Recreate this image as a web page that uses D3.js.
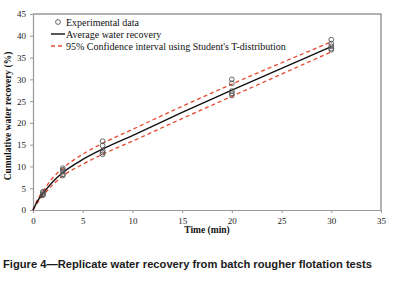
<!DOCTYPE html>
<html>
<head>
<meta charset="utf-8">
<script src="https://cdn.jsdelivr.net/npm/d3@7"></script>
<style>
  body { margin: 0; background: #fff; }
  svg { display: block; }
</style>
</head>
<body>
<div id="chart"></div>
<script>
// size of svg
const width = 397; const height = 292;
const margin = {top: 14, right: 16, bottom: 82, left: 33};
const innerWidth = width - margin.left - margin.right;
const innerHeight = height - margin.top - margin.bottom;

// experimental data (replicates at each time)
const expTimes = [1, 3, 7, 20, 30];
const expValues = [
    [4.2, 3.9, 3.6, 3.4],
    [9.6, 9.2, 8.8, 8.2, 7.9],
    [15.8, 14.8, 13.6, 13.2, 12.8],
    [30.0, 29.1, 27.3, 26.8, 26.3],
    [39.1, 38.2, 37.6, 37.1, 36.8]
];
// fitted curves
const fitTimes = [0, 0.5, 1, 2, 3, 5, 7, 10, 15, 20, 25, 30];
const avgValues = [0, 2.2, 3.8, 6.5, 8.6, 11.6, 14.0, 17.1, 22.4, 27.5, 32.5, 37.5];
const upperValues = [0, 2.6, 4.3, 7.4, 9.6, 12.8, 15.3, 18.5, 23.8, 28.9, 33.8, 38.6];
const lowerValues = [0, 1.8, 3.3, 5.8, 7.8, 10.5, 12.8, 15.8, 21.0, 26.1, 31.2, 36.3];

const xTicks = [0, 5, 10, 15, 20, 25, 30, 35];
const yTicks = [0, 5, 10, 15, 20, 25, 30, 35, 40, 45];

const svg = d3.select('#chart')
    .append('svg')
        .attr('width', width)
        .attr('height', height);

const g = svg.append('g')
    .attr('transform', `translate(${margin.left}, ${margin.top})`);

const xScale = d3.scaleLinear().domain([0, 35]).range([0, innerWidth]);
const yScale = d3.scaleLinear().domain([0, 45]).range([innerHeight, 0]);

// frame (top and right)
g.append('path')
    .attr('d', `M0,0H${innerWidth}V${innerHeight}`)
    .attr('fill', 'none')
    .attr('stroke', '#999')
    .attr('stroke-width', 1.5);

// axes
const xAxis = g.append('g')
    .attr('transform', `translate(0, ${innerHeight})`)
    .call(d3.axisBottom(xScale).tickValues(xTicks).tickSize(3).tickSizeOuter(0));
const yAxis = g.append('g')
    .call(d3.axisLeft(yScale).tickValues(yTicks).tickSize(3).tickSizeOuter(0));
[xAxis, yAxis].forEach(ax => {
    ax.select('.domain').attr('stroke', '#999').attr('stroke-width', 1.2);
    ax.selectAll('.tick line').attr('stroke', '#999');
    ax.selectAll('.tick text')
        .attr('font-family', 'Liberation Serif, serif')
        .attr('font-size', 9)
        .attr('fill', '#222');
});
xAxis.selectAll('.tick text').attr('dy', '0.9em');
yAxis.selectAll('.tick text').attr('x', -7);

// lines
const line = d3.line()
    .x((d, i) => xScale(fitTimes[i]))
    .y(d => yScale(d))
    .curve(d3.curveMonotoneX);

g.append('path')
    .attr('d', line(upperValues))
    .attr('fill', 'none')
    .attr('stroke', '#e8492e')
    .attr('stroke-width', 1.3)
    .attr('stroke-dasharray', '4,3');
g.append('path')
    .attr('d', line(lowerValues))
    .attr('fill', 'none')
    .attr('stroke', '#e8492e')
    .attr('stroke-width', 1.3)
    .attr('stroke-dasharray', '4,3');
g.append('path')
    .attr('d', line(avgValues))
    .attr('fill', 'none')
    .attr('stroke', '#111')
    .attr('stroke-width', 1.4);

// experimental points
const points = [];
expTimes.forEach((t, i) => {
    expValues[i].forEach(v => points.push({t: t, v: v}));
});
g.selectAll('circle.exp')
    .data(points)
    .enter()
    .append('circle')
        .attr('class', 'exp')
        .attr('cx', d => xScale(d.t))
        .attr('cy', d => yScale(d.v))
        .attr('r', 2.4)
        .attr('fill', 'none')
        .attr('stroke', '#555')
        .attr('stroke-width', 0.9);

// legend
const legend = g.append('g').attr('transform', 'translate(18, 8)');
const legendFont = 'Liberation Serif, serif';
legend.append('circle')
    .attr('cx', 7).attr('cy', 0).attr('r', 2.4)
    .attr('fill', 'none').attr('stroke', '#555').attr('stroke-width', 0.9);
legend.append('line')
    .attr('x1', 0).attr('x2', 14).attr('y1', 12).attr('y2', 12)
    .attr('stroke', '#111').attr('stroke-width', 1.4);
legend.append('line')
    .attr('x1', 0).attr('x2', 14).attr('y1', 24).attr('y2', 24)
    .attr('stroke', '#e8492e').attr('stroke-width', 1.3).attr('stroke-dasharray', '4,3');
const legendLabels = ['Experimental data', 'Average water recovery', '95% Confidence interval using Student\'s T-distribution'];
legend.selectAll('text.leg')
    .data(legendLabels)
    .enter()
    .append('text')
        .attr('class', 'leg')
        .attr('x', 15)
        .attr('y', (d, i) => i * 12 + 3.5)
        .attr('font-family', legendFont)
        .attr('font-size', 10)
        .attr('fill', '#111')
        .text(d => d);

// axis titles
g.append('text')
    .attr('x', innerWidth / 2)
    .attr('y', innerHeight + 23)
    .attr('text-anchor', 'middle')
    .attr('font-family', legendFont)
    .attr('font-weight', 'bold')
    .attr('font-size', 9.5)
    .attr('fill', '#111')
    .text('Time (min)');
svg.append('text')
    .attr('transform', `translate(11, ${margin.top + innerHeight / 2 + 4}) rotate(-90)`)
    .attr('text-anchor', 'middle')
    .attr('font-family', legendFont)
    .attr('font-weight', 'bold')
    .attr('font-size', 9.5)
    .attr('fill', '#111')
    .text('Cumulative water recovery (%)');

// caption
svg.append('text')
    .attr('x', 3)
    .attr('y', 268)
    .attr('font-family', 'Liberation Sans, Arial, sans-serif')
    .attr('font-weight', 'bold')
    .attr('font-size', 10.5)
    .attr('fill', '#1a1a1a')
    .attr('textLength', 369)
    .attr('lengthAdjust', 'spacingAndGlyphs')
    .text('Figure 4\u2014Replicate water recovery from batch rougher flotation tests');
</script>
</body>
</html>
